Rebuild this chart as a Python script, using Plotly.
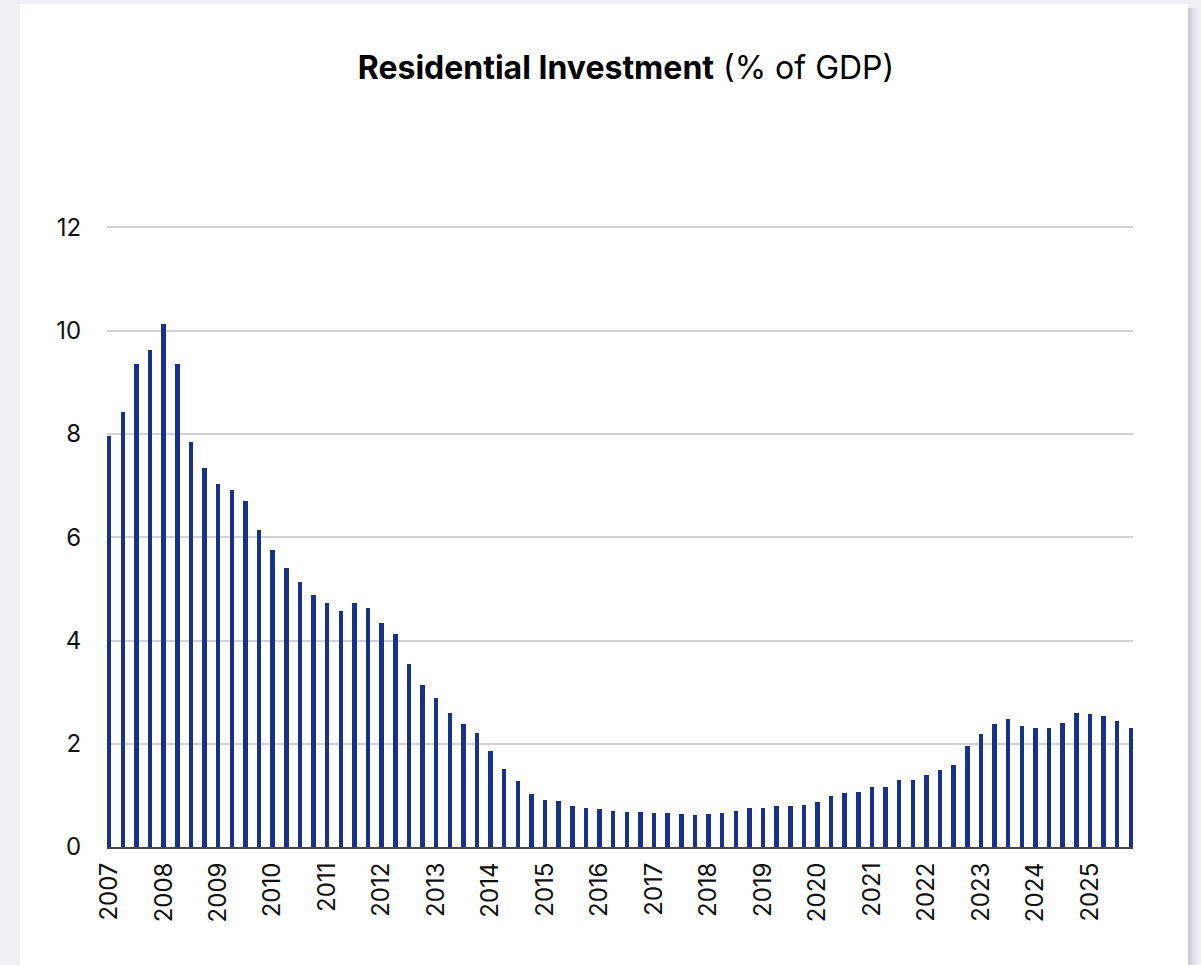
import plotly.graph_objects as go

# Quarterly residential investment, % of GDP, 2007 Q1 – 2025 Q4
years = list(range(2007, 2026))
quarters = [f"{y} Q{q}" for y in years for q in range(1, 5)]
values = [
    7.97, 8.42, 9.35, 9.63, 10.14, 9.35, 7.84, 7.34,
    7.03, 6.92, 6.70, 6.14, 5.76, 5.41, 5.13, 4.88,
    4.73, 4.57, 4.73, 4.63, 4.34, 4.12, 3.54, 3.13,
    2.88, 2.59, 2.38, 2.20, 1.86, 1.51, 1.28, 1.03,
    0.92, 0.89, 0.80, 0.76, 0.73, 0.69, 0.68, 0.68,
    0.66, 0.65, 0.64, 0.62, 0.64, 0.66, 0.70, 0.75,
    0.76, 0.79, 0.79, 0.82, 0.87, 0.99, 1.04, 1.07,
    1.16, 1.16, 1.30, 1.30, 1.40, 1.49, 1.59, 1.96,
    2.19, 2.38, 2.48, 2.35, 2.30, 2.30, 2.40, 2.59,
    2.58, 2.54, 2.44, 2.30,
]
year_labels = [str(y) for y in years]
y_ticks = [0, 2, 4, 6, 8, 10, 12]

W, H = 1201, 965
ML, MR, MT, MB = 107, 68, 212, 118
plot_w = W - ML - MR
plot_h = H - MT - MB

BAR_W = 0.33
x_idx = list(range(len(values)))


def px_x(px):
    return (px - ML) / plot_w


def px_y(py):
    return (H - MB - py) / plot_h


fig = go.Figure(
    go.Bar(
        x=x_idx,
        y=values,
        width=BAR_W,
        marker=dict(color="#18318a", line=dict(width=0)),
        customdata=quarters,
        hovertemplate="%{customdata}: %{y:.2f}%<extra></extra>",
    )
)

# white card on a light grey page, with a soft shadow along its right edge
shapes = [
    dict(type="rect", xref="paper", yref="paper", layer="below",
         x0=px_x(20), x1=px_x(1188), y0=px_y(1100), y1=px_y(4),
         fillcolor="white", line=dict(width=0)),
]
shadow = ["#c9cdd4", "#d3d6dc", "#dcdfe4", "#e3e5e9", "#e8eaee", "#eceef1"]
for i, c in enumerate(shadow):
    shapes.append(dict(type="rect", xref="paper", yref="paper", layer="below",
                       x0=px_x(1188 + i * 2), x1=px_x(1190 + i * 2),
                       y0=px_y(1100), y1=px_y(8),
                       fillcolor=c, line=dict(width=0)))

fig.update_layout(
    width=W,
    height=H,
    margin=dict(l=ML, r=MR, t=MT, b=MB, pad=0),
    paper_bgcolor="#eff0f4",
    plot_bgcolor="rgba(0,0,0,0)",
    shapes=shapes,
    showlegend=False,
    font=dict(family="Inter, Roboto, sans-serif", color="#111111"),
    title=dict(
        text="<b>Residential Investment</b> (% of GDP)",
        x=626 / W,
        xanchor="center",
        y=1 - 68 / H,
        yanchor="middle",
        xref="container",
        yref="container",
        font=dict(family="Inter, sans-serif", size=32, color="#000000"),
    ),
    xaxis=dict(
        range=[-BAR_W / 2, len(values) - 1 + BAR_W / 2],
        tickmode="array",
        tickvals=x_idx[::4],
        ticktext=year_labels,
        tickangle=-90,
        tickfont=dict(size=24, color="#111111"),
        ticklabelstandoff=4,
        showgrid=False,
        zeroline=False,
        showline=True,
        linecolor="#474747",
        linewidth=2,
        ticks="",
        fixedrange=True,
    ),
    yaxis=dict(
        range=[0, 12.3],
        tickmode="array",
        tickvals=y_ticks,
        ticktext=[str(v) for v in y_ticks],
        tickfont=dict(size=24, color="#111111"),
        showgrid=True,
        gridcolor="#d2d2d2",
        gridwidth=1.5,
        zeroline=False,
        showline=False,
        ticks="outside",
        ticklen=20,
        tickcolor="rgba(0,0,0,0)",
        fixedrange=True,
    ),
    bargap=0,
)

fig.write_html("out.html")
